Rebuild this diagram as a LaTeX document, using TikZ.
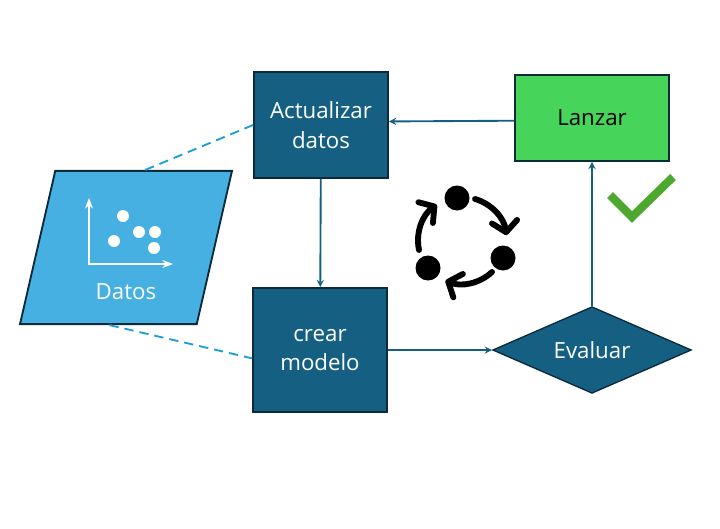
\documentclass[tikz,border=0pt]{standalone}
\usepackage{fontspec}
\setmainfont{Open Sans}
\usepackage{xcolor}
\usetikzlibrary{arrows.meta, shapes.geometric}

\definecolor{tealbox}{HTML}{156082}
\definecolor{darkline}{HTML}{0B2A3A}
\definecolor{greenbox}{HTML}{47D45A}
\definecolor{bluebox}{HTML}{45B0E1}
\definecolor{dashblue}{HTML}{1C9FD8}
\definecolor{checkgreen}{HTML}{4EA72E}

\tikzset{
	flowbox/.style = {draw = darkline, line width = 1.4pt, fill = tealbox, text = white, align = center, inner sep = 0pt, font = \fontsize{16.7}{22}\selectfont},
	flowline/.style = {draw = tealbox, line width = 1.4pt, -stealth},
	dataline/.style = {draw = dashblue, line width = 1.4pt, dash pattern = on 7pt off 4.5pt},
	cyclearrow/.style = {line width = 4.4pt, line cap = round, line join = round, -{Straight Barb[length = 8pt, width = 19pt, round]}},
}

\begin{document}
\begin{tikzpicture}[x = 0.75pt, y = -0.75pt]
	\useasboundingbox (0,0) rectangle (720,528);

	\node [flowbox, minimum width = 100.5pt, minimum height = 79.5pt] (actualizar) at (321,125) {Actualizar\\datos};
	\node [flowbox, minimum width = 100.5pt, minimum height = 93pt] (crear) at (320,350) {crear\\modelo};
	\node [flowbox, fill = greenbox, text = black, minimum width = 115.5pt, minimum height = 64.5pt] (lanzar) at (592,118) {Lanzar};
	\node [flowbox, shape = diamond, shape aspect = 4, minimum width = 149pt, minimum height = 65pt, line width = 1pt] (evaluar) at (592,350) {Evaluar};
	\node [flowbox, shape = trapezium, trapezium left angle = 76, trapezium right angle = 104, trapezium stretches = true, fill = bluebox, inner sep = 2pt, minimum width = 159pt, minimum height = 115pt] (datos) at (126,247.5) {};
	\node [text = white, font = \fontsize{16.7}{22}\selectfont, inner sep = 0pt] (datoslabel) at (126,292) {Datos};

	\begin{scope}
		\draw [flowline] (lanzar.182) -- (actualizar.3.4);
		\draw [flowline] (actualizar) -- (crear);
		\draw [flowline] (crear) -- (evaluar);
		\draw [flowline] (evaluar) -- (lanzar);
	\end{scope}

	\begin{scope}
		\draw [dataline] (datos.76) -- (actualizar.west);
		\draw [dataline] (datos.258) -- (crear.187);
	\end{scope}

	% icon inside the data shape
	\begin{scope}[white]
		\draw [line width = 1.1pt, Stealth-Stealth] (89,198) -- (89,264) -- (173,264);
		\foreach \px/\py in {123/216, 139/232, 155/232, 114/241, 154/248}
			\fill (\px,\py) circle (6);
	\end{scope}

	% cycle icon
	\begin{scope}
		\foreach \px/\py in {457/198, 503/258, 428/268}
			\fill (\px,\py) circle (12.5);
		\draw [cyclearrow] (475,199) arc (-74:-8:44);
		\draw [cyclearrow] (492,272) arc (47:112:44);
		\draw [cyclearrow] (419,250) arc (168:235:44);
	\end{scope}

	\draw [checkgreen, line width = 6.2pt, miter limit = 10] (610,195) -- (632,217) -- (673,177);
\end{tikzpicture}
\end{document}
